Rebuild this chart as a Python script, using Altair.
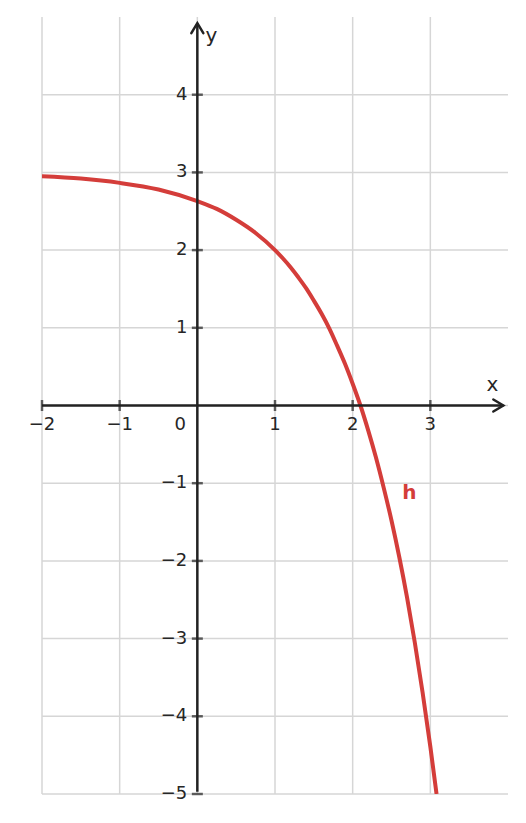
import altair as alt
import pandas as pd

# curve h
curve_x = [-2.0, -1.5, -1.0, -0.5, 0.0, 0.25, 0.5, 0.75, 1.0, 1.1, 1.2, 1.3, 1.4, 1.5,
           1.6, 1.7, 1.8, 1.9, 2.0, 2.1, 2.2, 2.3, 2.4, 2.5, 2.6, 2.7, 2.8, 2.9, 3.0, 3.08]
curve_y = [2.95, 2.92, 2.865, 2.78, 2.63, 2.53, 2.39, 2.22, 2.0, 1.895, 1.78, 1.65, 1.51, 1.35,
           1.18, 0.99, 0.77, 0.54, 0.28, 0.0, -0.32, -0.67, -1.06, -1.48, -1.95, -2.47, -3.05, -3.69, -4.39, -5.0]

x_grid = [-2, -1, 0, 1, 2, 3]
y_grid = [-5, -4, -3, -2, -1, 0, 1, 2, 3, 4]
x_ticks = [-2, -1, 1, 2, 3]
x_tick_labels = ["−2", "−1", "1", "2", "3"]
y_ticks = [-5, -4, -3, -2, -1, 1, 2, 3, 4]
y_tick_labels = ["−5", "−4", "−3", "−2", "−1", "1", "2", "3", "4"]

X_MIN, X_MAX, Y_MIN, Y_MAX = -2, 4, -5, 5
AX_X_END, AX_Y_END, AX_Y_START = 3.94, 4.92, -4.97

FONT = "DejaVu Sans"
DARK = "#222222"
TEXT = "#262626"
GRID = "#d6d6d6"
RED = "#d43d3a"

xs = alt.Scale(domain=[X_MIN, X_MAX], nice=False, zero=False)
ys = alt.Scale(domain=[Y_MIN, Y_MAX], nice=False, zero=False)

def X(f="x"):
    return alt.X(f"{f}:Q", scale=xs, axis=None)

def Y(f="y"):
    return alt.Y(f"{f}:Q", scale=ys, axis=None)

vgrid = alt.Chart(pd.DataFrame({"x": x_grid, "y": [Y_MIN] * len(x_grid), "y2": [Y_MAX] * len(x_grid)})).mark_rule(
    color=GRID, strokeWidth=1.5).encode(x=X(), y=Y(), y2="y2:Q")
hgrid = alt.Chart(pd.DataFrame({"y": y_grid, "x": [X_MIN] * len(y_grid), "x2": [X_MAX] * len(y_grid)})).mark_rule(
    color=GRID, strokeWidth=1.5).encode(y=Y(), x=X(), x2="x2:Q")

xaxis = alt.Chart(pd.DataFrame({"x": [X_MIN], "x2": [AX_X_END], "y": [0]})).mark_rule(
    color=DARK, strokeWidth=2.5).encode(x=X(), x2="x2:Q", y=Y())
yaxis = alt.Chart(pd.DataFrame({"y": [AX_Y_START], "y2": [AX_Y_END], "x": [0]})).mark_rule(
    color=DARK, strokeWidth=2.5).encode(y=Y(), y2="y2:Q", x=X())

xarrow = alt.Chart(pd.DataFrame({"x": [AX_X_END], "y": [0]})).mark_point(
    shape="M-1,-0.6L0,0L-1,0.6", size=400, filled=False, stroke=DARK, strokeWidth=2.5,
    opacity=1, strokeCap="round", strokeJoin="miter").encode(x=X(), y=Y())
yarrow = alt.Chart(pd.DataFrame({"x": [0], "y": [AX_Y_END]})).mark_point(
    shape="M-0.6,1L0,0L0.6,1", size=400, filled=False, stroke=DARK, strokeWidth=2.5,
    opacity=1, strokeCap="round", strokeJoin="miter").encode(x=X(), y=Y())

xt = alt.Chart(pd.DataFrame({"x": x_ticks, "y": [0] * len(x_ticks), "t": x_tick_labels}))
xtick_marks = xt.mark_tick(orient="vertical", size=11, thickness=2.5, color=DARK).encode(x=X(), y=Y())
xtick_text = xt.mark_text(font=FONT, fontSize=18, color=TEXT, dy=19, baseline="middle", align="center").encode(
    x=X(), y=Y(), text="t:N")

yt = alt.Chart(pd.DataFrame({"y": y_ticks, "x": [0] * len(y_ticks), "t": y_tick_labels}))
ytick_marks = yt.mark_tick(orient="horizontal", size=11, thickness=2.5, color=DARK).encode(x=X(), y=Y())
ytick_text = yt.mark_text(font=FONT, fontSize=18, color=TEXT, dx=-10, baseline="middle", align="right").encode(
    x=X(), y=Y(), text="t:N")

origin = alt.Chart(pd.DataFrame({"x": [0], "y": [0], "t": ["0"]})).mark_text(
    font=FONT, fontSize=18, color=TEXT, dx=-17, dy=19, baseline="middle", align="center").encode(
    x=X(), y=Y(), text="t:N")

axis_names = alt.Chart(pd.DataFrame({"x": [3.8, 0.18], "y": [0.26, 4.76], "t": ["x", "y"]})).mark_text(
    font=FONT, fontSize=20, color=TEXT, baseline="middle", align="center").encode(x=X(), y=Y(), text="t:N")

curve = alt.Chart(pd.DataFrame({"x": curve_x, "y": curve_y})).mark_line(
    color=RED, strokeWidth=4, interpolate="monotone", clip=True).encode(x=X(), y=Y())

hlabel = alt.Chart(pd.DataFrame({"x": [2.73], "y": [-1.12], "t": ["h"]})).mark_text(
    font=FONT, fontSize=20, fontWeight="bold", color=RED, baseline="middle", align="center").encode(
    x=X(), y=Y(), text="t:N")

chart = alt.layer(
    vgrid, hgrid, curve, xaxis, yaxis, xarrow, yarrow, xtick_marks, ytick_marks,
    xtick_text, ytick_text, origin, axis_names, hlabel
).properties(
    width=466, height=777,
    padding={"left": 34, "top": 9, "right": 10, "bottom": 15},
    autosize=alt.AutoSizeParams(type="none"),
).configure_view(stroke=None)

chart.save("out.html", embed_options={"renderer": "svg", "actions": False})
